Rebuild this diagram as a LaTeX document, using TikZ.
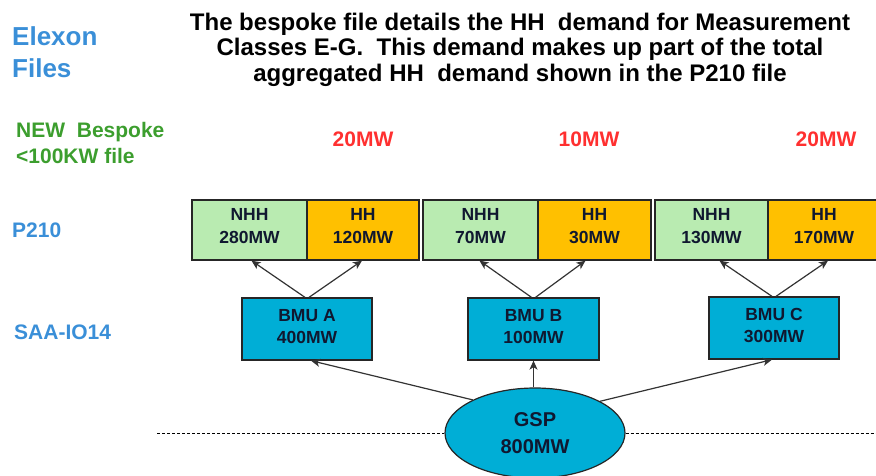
\documentclass[tikz,border=0pt]{standalone}
\usepackage{fontspec}
\setmainfont{Liberation Sans}
\usetikzlibrary{shapes.geometric,arrows.meta,calc}
\definecolor{elexblue}{HTML}{3A8FD8}
\definecolor{newgreen}{HTML}{3C9E2E}
\definecolor{mwred}{HTML}{FF3030}
\definecolor{nhhfill}{HTML}{B9EBB1}
\definecolor{hhfill}{HTML}{FFC000}
\definecolor{bmufill}{HTML}{00AED6}
\definecolor{txtdark}{HTML}{101830}
\begin{document}
\begin{tikzpicture}[x=1pt,y=-1pt,
  side/.style={anchor=base west,font=\bfseries\fontsize{21}{26}\selectfont,text=elexblue,inner sep=0,align=left},
  redmw/.style={anchor=base,font=\bfseries\fontsize{21}{25}\selectfont,text=mwred,inner sep=0},
  titletext/.style={anchor=base,inner sep=0,font=\bfseries\fontsize{24}{28}\selectfont},
  ctext/.style={font=\bfseries\fontsize{17.5}{22.5}\selectfont,text=txtdark,align=center,inner sep=0},
  cell/.style={draw=black!85,line width=1.3pt,minimum height=60pt,inner sep=0},
  nhh/.style={cell,fill=nhhfill},
  hh/.style={cell,fill=hhfill},
  bmu/.style={draw=black!85,line width=1.3pt,fill=bmufill,minimum width=130pt,minimum height=62pt,inner sep=0},
  arr/.style={draw=black!80,line width=1.2pt,-{Stealth[length=9pt,width=8pt,inset=2.5pt]}},
  dashline/.style={draw=black,line width=1pt,dash pattern=on 3pt off 2pt}
]
\useasboundingbox (0,0) rectangle (876,475);

% left labels
\node[side,font=\bfseries\fontsize{26}{32}\selectfont] (elex) at (12,45) {Elexon};
\node[side,font=\bfseries\fontsize{26}{32}\selectfont] (files) at (12,77) {Files};
\node[side,text=newgreen] (new1) at (16,137) {NEW\ \ Bespoke};
\node[side,text=newgreen] (new2) at (16,163) {<100KW file};
\node[side] (p210) at (12,237) {P210};
\node[side] (saa) at (14,339) {SAA-IO14};

% title
\node[titletext] (t1) at (520,30) {The bespoke file details the HH\ \ demand for Measurement};
\node[titletext] (t2) at (520,55.5) {Classes E-G.\ \ This demand makes up part of the total};
\node[titletext] (t3) at (520,81) {aggregated HH\ \ demand shown in the P210 file};

% red MW
\node[redmw] (r1) at (363,146.5) {20MW};
\node[redmw] (r2) at (589,146.5) {10MW};
\node[redmw] (r3) at (826,146.5) {20MW};

% P210 row
\node[nhh,minimum width=115pt,label={[ctext,yshift=4pt]center:{NHH\\280MW}}] (nhh1) at (249.5,230) {};
\node[hh,minimum width=112pt,label={[ctext,yshift=4pt]center:{HH\\120MW}}] (hh1) at (363,230) {};
\node[nhh,minimum width=115pt,label={[ctext,yshift=4pt]center:{NHH\\70MW}}] (nhh2) at (480.5,230) {};
\node[hh,minimum width=113pt,label={[ctext,yshift=4pt]center:{HH\\30MW}}] (hh2) at (594.5,230) {};
\node[nhh,minimum width=113pt,label={[ctext,yshift=4pt]center:{NHH\\130MW}}] (nhh3) at (711.5,230) {};
\node[hh,minimum width=112pt,label={[ctext,yshift=4pt]center:{HH\\170MW}}] (hh3) at (824,230) {};

% BMUs
\node[bmu,label={[ctext,yshift=2.5pt]center:{BMU A\\400MW}}] (bmua) at (307,329) {};
\node[bmu,minimum width=131pt,label={[ctext,yshift=2.5pt]center:{BMU B\\100MW}}] (bmub) at (533.5,329) {};
\node[bmu,label={[ctext,yshift=2.5pt]center:{BMU C\\300MW}}] (bmuc) at (774,328) {};

% GSP
\node[ellipse,draw=black!85,line width=1.2pt,fill=bmufill,minimum width=180pt,minimum height=90pt,inner sep=0,align=center,
  font=\bfseries\fontsize{20}{27}\selectfont,text=txtdark] (gsp) at (535,433) {GSP\\800MW};

% dashed line
\coordinate (dl) at (157,433);
\coordinate (dr) at (876,433);
\draw[dashline] (dl) -- (gsp.west);
\draw[dashline] (gsp.east) -- (dr);

% arrows BMU -> P210
\draw[arr] ($(bmua.north)+(-2,0)$) -- ($(nhh1.south)+(2,0)$);
\draw[arr] ($(bmua.north)+(2,0)$) -- ($(hh1.south)+(-1,0)$);
\draw[arr] ($(bmub.north)+(-2,0)$) -- ($(nhh2.south)+(-1,0)$);
\draw[arr] ($(bmub.north)+(2,0)$) -- ($(hh2.south)+(-9,0)$);
\draw[arr] ($(bmuc.north)+(-2,0)$) -- ($(nhh3.south)+(8,0)$);
\draw[arr] ($(bmuc.north)+(2,0)$) -- ($(hh3.south)+(4,0)$);

% arrows GSP -> BMU
\draw[arr] (gsp.north -| bmub.south) -- (bmub.south);
\draw[arr] (gsp.152) -- ($(bmua.south)+(4,0)$);
\draw[arr] (gsp.26) -- ($(bmuc.south)+(-2,0)$);
\end{tikzpicture}
\end{document}
